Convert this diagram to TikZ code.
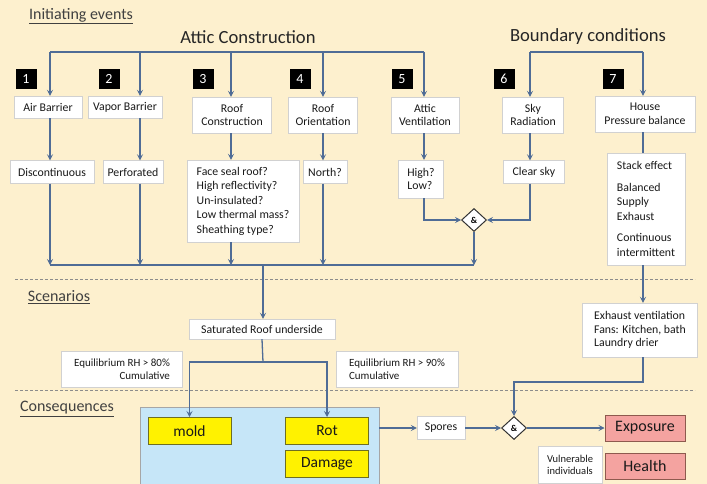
\documentclass[tikz,border=0pt]{standalone}
\usepackage{fontspec}
\setmainfont{Carlito}
\usepackage{xcolor}
\usetikzlibrary{arrows.meta,shapes.geometric}

\definecolor{bgcream}{HTML}{FDF0CE}
\definecolor{flowblue}{HTML}{4F6C96}
\definecolor{panelblue}{HTML}{C6E6F8}
\definecolor{hazardpink}{HTML}{F4A3A0}
\definecolor{hazardedge}{HTML}{8E5A4E}
\definecolor{effectedge}{HTML}{6E6E22}

\begin{document}
\begin{tikzpicture}[x=1pt,y=-1pt,
    box/.style={draw=black!18,fill=white,text=black!90,align=center,inner sep=2pt,
      font=\fontsize{11.8}{13.5}\selectfont},
    num/.style={fill=black,text=white,minimum width=21,minimum height=20,inner sep=0pt,
      font=\fontsize{14}{14}\selectfont},
    headline/.style={text=black!85,font=\fontsize{18.6}{18.6}\selectfont},
    seclabel/.style={text=black!75,font=\fontsize{16}{16}\selectfont},
    andgate/.style={diamond,draw=black!80,fill=white,line width=1pt,inner sep=0pt,
      minimum width=25,minimum height=23,font=\fontsize{9}{9}\selectfont\bfseries},
    effect/.style={draw=effectedge,fill=yellow,line width=1pt,text=black!90,
      minimum width=83,minimum height=27,font=\fontsize{15.5}{15.5}\selectfont},
    hazard/.style={draw=hazardedge,fill=hazardpink,line width=1pt,text=black!90,
      minimum width=80,minimum height=26,font=\fontsize{16}{16}\selectfont},
    wire/.style={draw=flowblue,line width=1.3pt},
    flow/.style={wire,-{Stealth[length=6pt,width=6pt,inset=2.5pt]}},
    divider/.style={draw=black!45,line width=0.8pt,dash pattern=on 3pt off 2pt}]

\useasboundingbox[fill=bgcream] (0,0) rectangle (707,484);

% headings
\node[seclabel] (initlbl) at (81,16) {\underline{Initiating events}};
\node[headline] (atticlbl) at (248,37) {Attic Construction};
\node[headline] (bndlbl) at (588,37) {Boundary conditions};

% numbered initiating events
\foreach \n/\x in {1/26,2/109,3/203,4/300,5/402,6/504,7/613}
  \node[num] (n\n) at (\x,79) {\n};

\node[box,minimum width=68,minimum height=22] (airb) at (48,107) {Air Barrier};
\node[box,minimum width=74,minimum height=22] (vapb) at (125,107) {Vapor Barrier};
\node[box,minimum width=79,minimum height=36] (roofc) at (232,115) {Roof\\Construction};
\node[box,minimum width=69,minimum height=36] (roofo) at (323,115) {Roof\\Orientation};
\node[box,minimum width=68,minimum height=36] (attv) at (425,115) {Attic\\Ventilation};
\node[box,minimum width=61,minimum height=36] (skyr) at (533,115) {Sky\\Radiation};
\node[box,minimum width=100,minimum height=36] (house) at (645,114) {House\\Pressure balance};

\node[box,minimum width=84,minimum height=23] (discont) at (52,172) {Discontinuous};
\node[box,minimum width=60,minimum height=23] (perf) at (133,172) {Perforated};
\node[box,align=left,minimum width=112,minimum height=82,
  font=\fontsize{11.8}{14.5}\selectfont] (roofq) at (243,201)
  {Face seal roof?\\High reflectivity?\\Un-insulated?\\Low thermal mass?\\Sheathing type?};
\node[box,minimum width=44,minimum height=23] (north) at (325,172) {North?};
\node[box,align=left,minimum width=45,minimum height=38] (hilo) at (421,179) {High?\\Low?};
\node[box,minimum width=61,minimum height=23] (clrsky) at (534,172) {Clear sky};
\node[box,align=left,minimum width=78,minimum height=112,
  font=\fontsize{11.8}{14.5}\selectfont] (stack) at (646,209)
  {Stack effect\\[7pt]Balanced\\Supply\\Exhaust\\[7pt]Continuous\\intermittent};
\node[andgate] (gate1) at (474,220) {\&};

% bus lines
\coordinate (d1) at (50,52);
\coordinate (d2) at (140,52);
\coordinate (d3) at (231,52);
\coordinate (d4) at (323,52);
\coordinate (d5) at (424,52);
\coordinate (d6) at (530,52);
\coordinate (d7) at (643,52);
\coordinate (busL) at (50,265);
\coordinate (busR) at (474,265);
\coordinate (busM) at (263,265);

\draw[wire] (d1) -- (d5);
\draw[wire] (d6) -- (d7);
\foreach \d/\t in {d1/airb,d2/vapb,d3/roofc,d4/roofo,d5/attv,d6/skyr,d7/house}
  \draw[flow] (\d) -- (\d |- \t.north);
\foreach \d/\s/\t in {d1/airb/discont,d2/vapb/perf,d3/roofc/roofq,d4/roofo/north,
    d5/attv/hilo,d6/skyr/clrsky}
  \draw[flow] (\d |- \s.south) -- (\d |- \t.north);
\draw[wire] (d7 |- house.south) -- (d7 |- stack.north);

\draw[wire] (busL) -- (busR);
\foreach \d/\s in {d1/discont,d2/perf,d3/roofq,d4/north}
  \draw[flow] (\d |- \s.south) -- (\d |- busL);
\draw[flow] (d5 |- hilo.south) |- (gate1.west);
\draw[flow] (d6 |- clrsky.south) |- (gate1.east);
\draw[flow] (gate1.south) -- (busR);

\draw[divider] (15,279) -- (695,279);
\draw[divider] (15,390) -- (695,390);

% scenarios
\node[seclabel] (scenlbl) at (59,297) {\underline{Scenarios}};
\node[box,minimum width=146,minimum height=20] (satur) at (262,329) {Saturated Roof underside};
\node[box,align=right,minimum width=121,minimum height=36,
  font=\fontsize{11}{13.5}\selectfont] (eqlow) at (122,369) {Equilibrium RH > 80\%\\Cumulative};
\node[box,align=left,minimum width=122,minimum height=36,
  font=\fontsize{11}{13.5}\selectfont] (eqhigh) at (397,369) {Equilibrium RH > 90\%\\Cumulative};
\node[box,align=left,minimum width=115,minimum height=54] (exhv) at (640,330)
  {Exhaust ventilation\\Fans: Kitchen, bath\\Laundry drier};

\draw[flow] (busM) -- (busM |- satur.north);
\draw[flow] (d7 |- stack.south) -- (d7 |- exhv.north);

% consequences
\node[seclabel] (conslbl) at (67,409) {\underline{Consequences}};
\node[draw=black!35,fill=panelblue,minimum width=239,minimum height=80,inner sep=0pt]
  (panel) at (259.5,447) {};
\node[effect] (mold) at (189.5,431) {mold};
\node[effect] (rot) at (327,431) {Rot};
\node[effect] (damage) at (327,464) {Damage};
\node[box,minimum width=48,minimum height=23] (spores) at (441,428) {Spores};
\node[andgate] (gate2) at (514,428) {\&};
\node[hazard] (expo) at (645,428) {Exposure};
\node[hazard] (health) at (645,466) {Health};
\node[box,minimum width=64,minimum height=37,font=\fontsize{10.5}{12.5}\selectfont]
  (vuln) at (570,465) {Vulnerable\\individuals};

\coordinate (split) at (263,362);
\coordinate (jog) at (643,382);
\draw[wire] (satur.south) -- (split);
\draw[flow] (split) -| (mold.north);
\draw[flow] (split) -| (rot.north);
\draw[flow] (panel.east |- spores) -- (spores.west);
\draw[flow] (spores.east) -- (gate2.west);
\draw[flow] (gate2.east) -- (expo.west);
\draw[flow] (d7 |- exhv.south) -- (jog) -| (gate2.north);

\end{tikzpicture}
\end{document}
